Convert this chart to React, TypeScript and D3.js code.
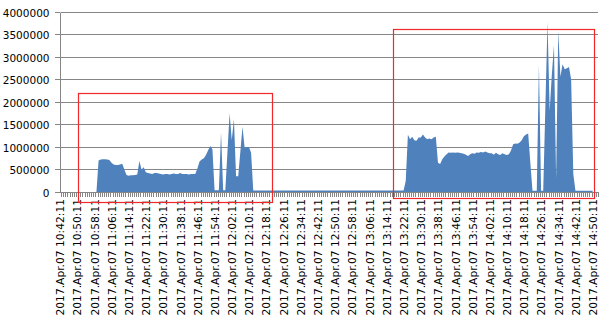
import React from "react";
import * as d3 from "d3";

// ---- data ----
const START = new Date(2017, 3, 7, 10, 42, 11);
const fmt = d3.timeFormat("%Y.%b.%d %H:%M:%S");
const categories: string[] = d3.range(250).map((i) => fmt(d3.timeMinute.offset(START, i)));

// values in units of 1000
const values: (number | null)[] = [
  null, null, null, null, null, null, null, null, null, null, null, null, null, null, null, null,
  0, 700, 720, 730, 730, 720, 710, 650, 610, 600,
  600, 610, 630, 500, 380, 360, 370, 370, 380, 390,
  690, 500, 550, 440, 420, 410, 400, 420, 420, 410,
  400, 390, 400, 400, 390, 400, 410, 400, 400, 420,
  400, 400, 400, 390, 400, 400, 400, 520, 680, 720,
  750, 820, 930, 1020, 950, 40, 40, 40, 1330, 40,
  40, 900, 1750, 1150, 1620, 350, 350, 900, 1450, 980,
  1000, 1000, 870,
  35, 35, 35, 35, 35, 35, 35, 35, 35, 35,
  35, 35, 35, 35, 35, 35, 35, 35, 35, 35,
  35, 35, 35, 35, 35, 35, 35, 35, 35, 35,
  35, 35, 35, 35, 35, 35, 35, 35, 35, 35,
  35, 35, 35, 35, 35, 35, 35, 35, 35, 35,
  35, 35, 35, 35, 35, 35, 35, 35, 35, 35,
  35, 35, 35, 35, 35, 35, 35, 35, 35, 35,
  35,
  250, 1270, 1170, 1230, 1150, 1140, 1210, 1210, 1280, 1210,
  1170, 1190, 1170, 1210, 1230, 650, 620, 730, 790, 840,
  880, 870, 880, 870, 880, 870, 860, 850, 830, 800,
  840, 860, 850, 880, 870, 890, 880, 900, 880, 860,
  860, 830, 870, 840, 820, 860, 840, 820, 840, 920,
  1060, 1080, 1070, 1100, 1150, 1240, 1280, 1300, 650, 30,
  30, 30, 2830, 30, 30, 1900, 3780, 1800, 2600, 3260,
  300, 3580, 2560, 2840, 2730, 2750, 2780, 2500, 400, 30,
  30, 30, 30, 30, 30, 30, 30, 30,
  null, null,
];
const UNIT = 1000;

const yTicks: number[] = [0, 500000, 1000000, 1500000, 2000000, 2500000, 3000000, 3500000, 4000000];
const labelEvery = 8;

// highlight boxes in data coordinates: [category index from, to, value from, to]
const boxStarts: number[] = [7.56, 154.1];
const boxEnds: number[] = [97.7, 247.6];
const boxLows: number[] = [-250000, -150000];
const boxHighs: number[] = [2180000, 3600000];

export default function App() {
  const W = 614, H = 325;
  const left = 61, right = 598, top = 12, bottom = 192;
  const x = d3.scaleBand<string>().domain(categories).range([left, right]).paddingInner(0).paddingOuter(0);
  const bw = x.bandwidth();
  const cx = (i: number) => (x(categories[i]) as number) + bw / 2;
  const xi = d3.scaleLinear().domain([0, 1]).range([cx(0), cx(1)]);
  const y = d3.scaleLinear().domain([0, 4000000]).range([bottom, top]);

  const area = d3
    .area<number | null>()
    .defined((d) => d != null)
    .x((_, i) => cx(i))
    .y0(y(0))
    .y1((d) => y((d as number) * UNIT));

  const gridColor = "#868686";
  const crisp = (v: number) => Math.floor(v) + 0.5;

  const ticksX = d3.range(categories.length + 1).map((k) => left + k * bw);

  return (
    <svg width={W} height={H} style={{ position: "absolute", left: 0, top: 0, background: "#fff" }}
      fontFamily="'DejaVu Sans', Verdana, sans-serif">
      {/* gridlines */}
      {yTicks.slice(1).map((t) => (
        <line key={t} x1={left} x2={right} y1={crisp(y(t))} y2={crisp(y(t))} stroke={gridColor} strokeWidth={1} />
      ))}
      {/* area */}
      <path d={area(values) || ""} fill="#4F81BD" />
      {/* y axis */}
      <line x1={crisp(left - 1)} x2={crisp(left - 1)} y1={crisp(y(4000000))} y2={crisp(y(0))} stroke={gridColor} />
      {yTicks.map((t) => (
        <g key={"yt" + t}>
          <line x1={left - 6} x2={left - 1} y1={crisp(y(t))} y2={crisp(y(t))} stroke={gridColor} />
          <text x={49.5} y={y(t) + 0.5} textAnchor="end" dominantBaseline="central" fontSize={10.5} fill="#000">
            {t}
          </text>
        </g>
      ))}
      {/* x axis */}
      <line x1={left - 1} x2={right} y1={crisp(y(0))} y2={crisp(y(0))} stroke={gridColor} />
      {ticksX.map((tx, k) => (
        <line key={"xt" + k} x1={Math.round(tx) + 0.5} x2={Math.round(tx) + 0.5} y1={y(0)} y2={y(0) + 5} stroke={gridColor} />
      ))}
      {categories.map((c, i) =>
        i % labelEvery === 0 ? (
          <text key={c} transform={`translate(${cx(i) - 1.3},199) rotate(-90)`} textAnchor="end"
            dominantBaseline="central" fontSize={10.7} fill="#000">
            {c}
          </text>
        ) : null
      )}
      {/* highlight boxes */}
      {boxStarts.map((b, k) => (
        <rect key={"box" + k} x={crisp(xi(b))} y={crisp(y(boxHighs[k]))}
          width={Math.round(xi(boxEnds[k]) - xi(b))} height={Math.round(y(boxLows[k]) - y(boxHighs[k]))}
          fill="none" stroke="#f02828" strokeWidth={1.2} />
      ))}
    </svg>
  );
}
